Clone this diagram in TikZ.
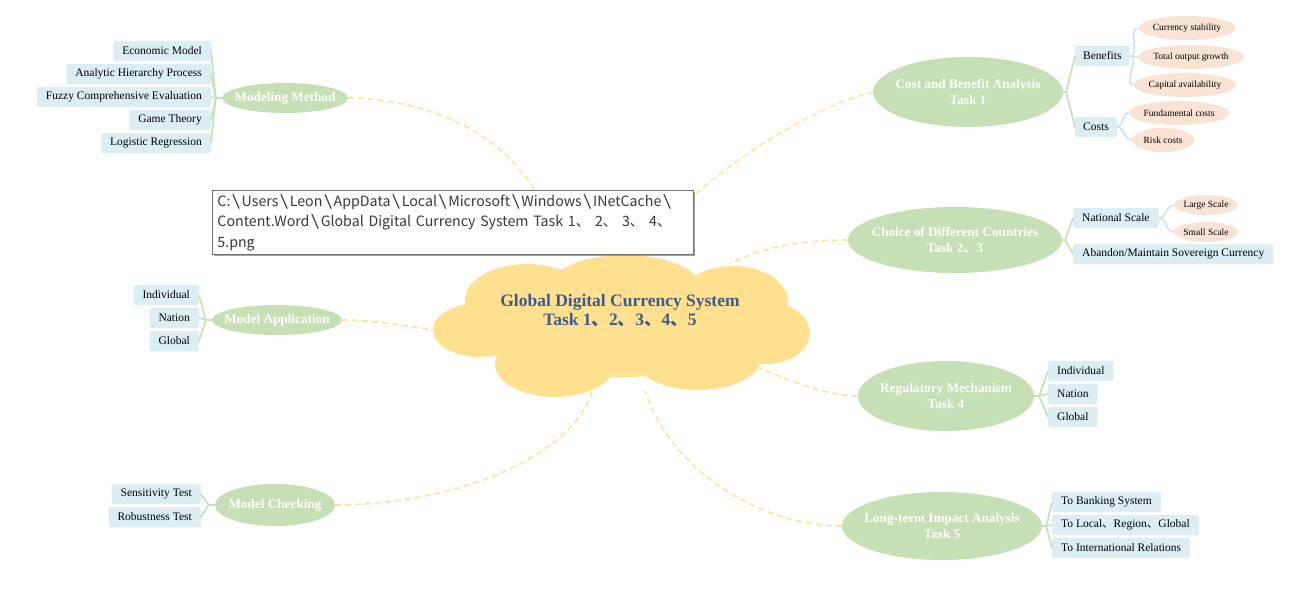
\documentclass[tikz,border=0pt]{standalone}
\usepackage{fontspec}
\usepackage{graphicx}
\setmainfont{Liberation Serif}
\newfontfamily\cjk{Noto Sans CJK SC}
\newcommand{\dn}{{\cjk 、}}
\newcommand{\bsl}{\kern1.6pt\scalebox{1.45}[1.05]{\textbackslash}\kern1.6pt}
\usetikzlibrary{shapes.geometric,shadows}
\definecolor{cloudc}{HTML}{FFE08F}
\definecolor{greenc}{HTML}{C5E0B4}
\definecolor{bluec}{HTML}{DAEEF3}
\definecolor{peachc}{HTML}{FBE3D4}
\definecolor{titlec}{HTML}{3F5B8C}
\definecolor{dashc}{HTML}{FDE49A}
\definecolor{bline}{HTML}{C8E2EC}
\tikzset{
 topic/.style={ellipse, fill=greenc, inner sep=0pt},
 ttext/.style={text=white, font=\bfseries\fontsize{13.2}{16}\selectfont, align=center, inner sep=0pt},
 leaf/.style={fill=bluec, rounded corners=1.5pt, font=\fontsize{11.5}{13}\selectfont, minimum height=20pt, inner xsep=9pt, inner ysep=0pt},
 sub/.style={ellipse, fill=peachc, font=\fontsize{9.5}{11}\selectfont, inner sep=0pt},
 mainline/.style={draw=dashc, line width=1.6pt, dash pattern=on 6pt off 4pt},
 gline/.style={draw=greenc, line width=1.6pt},
 bl/.style={draw=bline, line width=1.4pt},
 cloudpart/.style={fill=cloudc, draw=none},
}
\begin{document}
\begin{tikzpicture}[x=1pt,y=-1pt]
\useasboundingbox (0,0) rectangle (1302,592);
\fill[white] (0,0) rectangle (1302,592);

% topic nodes
\node[topic, minimum width=126pt, minimum height=30pt, label={[ttext]center:{Modeling Method}}] (mm) at (285,98) {};
\node[topic, minimum width=190pt, minimum height=70pt, label={[ttext]center:{Cost and Benefit Analysis\\Task 1}}] (cb) at (968,92) {};
\node[topic, minimum width=214pt, minimum height=66pt, label={[ttext]center:{Choice of Different Countries\\Task 2\dn 3}}] (cd) at (955,240) {};
\node[topic, minimum width=130pt, minimum height=30pt, label={[ttext]center:{Model Application}}] (ma) at (277,320) {};
\node[topic, minimum width=176pt, minimum height=70pt, label={[ttext]center:{Regulatory Mechanism\\Task 4}}] (rm) at (946,396) {};
\node[topic, minimum width=120pt, minimum height=42pt, label={[ttext]center:{Model Checking}}] (mc) at (275,505) {};
\node[topic, minimum width=200pt, minimum height=68pt, label={[ttext]center:{Long-term Impact Analysis\\Task 5}}] (lt) at (942,526) {};

% cloud attach points
\coordinate (cA) at (562,258);
\coordinate (cB) at (640,258);
\coordinate (cC) at (730,264);
\coordinate (cD) at (438,330);
\coordinate (cE) at (750,365);
\coordinate (cF) at (592,392);
\coordinate (cG) at (645,390);

% main dashed connectors
\draw[mainline] (mm.east) .. controls (450,100) and (540,150) .. (cA);
\draw[mainline] (cb.west) .. controls (800,110) and (680,190) .. (cB);
\draw[mainline] (cd.west) .. controls (800,240) and (760,248) .. (cC);
\draw[mainline] (ma.east) .. controls (380,320) and (410,328) .. (cD);
\draw[mainline] (rm.west) .. controls (820,396) and (780,375) .. (cE);
\draw[mainline] (mc.east) .. controls (450,505) and (570,460) .. (cF);
\draw[mainline] (lt.west) .. controls (760,526) and (670,470) .. (cG);

% cloud
\fill[cloudpart] (620,325) ellipse [x radius=150, y radius=52];
\fill[cloudpart] (625,287) ellipse [x radius=75, y radius=32];
\fill[cloudpart] (527,300) ellipse [x radius=62, y radius=36];
\fill[cloudpart] (733,302) ellipse [x radius=55, y radius=36];
\fill[cloudpart] (766,333) ellipse [x radius=44, y radius=31];
\fill[cloudpart] (698,360) ellipse [x radius=62, y radius=30];
\fill[cloudpart] (555,364) ellipse [x radius=60, y radius=33];
\fill[cloudpart] (480,330) ellipse [x radius=47, y radius=27];
\node[font=\bfseries\fontsize{17.5}{19}\selectfont, text=titlec, align=center] (core) at (620,311) {Global Digital Currency System\\Task 1\dn 2\dn 3\dn 4\dn 5};

% Modeling Method leaves
\node[leaf, anchor=east] (mm1) at (211,51) {Economic Model};
\node[leaf, anchor=east] (mm2) at (211,74) {Analytic Hierarchy Process};
\node[leaf, anchor=east] (mm3) at (211,97) {Fuzzy Comprehensive Evaluation};
\node[leaf, anchor=east] (mm4) at (211,120) {Game Theory};
\node[leaf, anchor=east] (mm5) at (211,143) {Logistic Regression};
\path (mm.west) ++(-6,0) coordinate (jmm);
\draw[gline] (mm.west) -- (jmm);
\foreach \c in {mm1,mm2,mm3,mm4,mm5} \draw[gline] (jmm) -- (\c.east);

% Cost and Benefit
\node[leaf, anchor=west, inner xsep=8pt] (ben) at (1075,56) {Benefits};
\node[leaf, anchor=west, inner xsep=8pt] (cos) at (1075,127) {Costs};
\path (cb.east) ++(3,0) coordinate (jcb);
\draw[gline] (cb.east) -- (jcb);
\foreach \c in {ben,cos} \draw[gline] (jcb) -- (\c.west);
\node[sub, minimum width=88pt, minimum height=24pt] (b1) at (1187,28) {Currency stability};
\node[sub, minimum width=98pt, minimum height=24pt] (b2) at (1191,57) {Total output growth};
\node[sub, minimum width=86pt, minimum height=24pt] (b3) at (1185,85) {Capital availability};
\node[sub, minimum width=92pt, minimum height=24pt] (c1) at (1179,113) {Fundamental costs};
\node[sub, minimum width=62pt, minimum height=24pt] (c2) at (1163,140) {Risk costs};
\foreach \c in {b1,b2,b3} \draw[bl] (ben.east) to[out=0,in=180] (\c.west);
\foreach \c in {c1,c2} \draw[bl] (cos.east) to[out=0,in=180] (\c.west);

% Choice of Different Countries
\node[leaf, anchor=west] (ns) at (1073,218) {National Scale};
\node[leaf, anchor=west] (ab) at (1073,254) {Abandon/Maintain Sovereign Currency};
\path (cd.east) ++(3,0) coordinate (jcd);
\draw[gline] (cd.east) -- (jcd);
\foreach \c in {ns,ab} \draw[gline] (jcd) -- (\c.west);
\node[sub, minimum width=62pt, minimum height=20pt] (ls) at (1206,205) {Large Scale};
\node[sub, minimum width=62pt, minimum height=20pt] (ss) at (1206,232) {Small Scale};
\foreach \c in {ls,ss} \draw[bl] (ns.east) to[out=0,in=180] (\c.west);

% Model Application
\node[leaf, anchor=east] (ma1) at (199,295) {Individual};
\node[leaf, anchor=east] (ma2) at (199,318) {Nation};
\node[leaf, anchor=east] (ma3) at (199,341) {Global};
\path (ma.west) ++(-6,0) coordinate (jma);
\draw[gline] (ma.west) -- (jma);
\foreach \c in {ma1,ma2,ma3} \draw[gline] (jma) -- (\c.east);

% Regulatory Mechanism
\node[leaf, anchor=west] (rm1) at (1048,371) {Individual};
\node[leaf, anchor=west] (rm2) at (1048,394) {Nation};
\node[leaf, anchor=west] (rm3) at (1048,417) {Global};
\path (rm.east) ++(5,0) coordinate (jrm);
\draw[gline] (rm.east) -- (jrm);
\foreach \c in {rm1,rm2,rm3} \draw[gline] (jrm) -- (\c.west);

% Model Checking
\node[leaf, anchor=east] (mc1) at (201,494) {Sensitivity Test};
\node[leaf, anchor=east] (mc2) at (201,517) {Robustness Test};
\path (mc.west) ++(-6,0) coordinate (jmc);
\draw[gline] (mc.west) -- (jmc);
\foreach \c in {mc1,mc2} \draw[gline] (jmc) -- (\c.east);

% Long-term Impact Analysis
\node[leaf, anchor=west] (lt1) at (1052,502) {To Banking System};
\node[leaf, anchor=west] (lt2) at (1052,525) {To Local\dn Region\dn Global};
\node[leaf, anchor=west] (lt3) at (1052,548) {To International Relations};
\path (lt.east) ++(4,0) coordinate (jlt);
\draw[gline] (lt.east) -- (jlt);
\foreach \c in {lt1,lt2,lt3} \draw[gline] (jlt) -- (\c.west);

% file path box
\node[draw=black!55, fill=white, line width=0.9pt, align=left, anchor=north west,
  text width=471pt, minimum height=64pt, inner xsep=5pt, inner ysep=1.5pt,
  font=\cjk\fontsize{14.2}{20.5}\selectfont, text=black!78,
  drop shadow={shadow xshift=2pt, shadow yshift=-2pt, fill=black!60, opacity=0.6}] (fp) at (212,190)
  {C:\bsl Users\bsl Leon\bsl AppData\bsl Local\bsl Microsoft\bsl Windows\bsl INetCache\bsl\\
   Content.Word\bsl Global Digital Currency System Task 1、\hspace{5pt}2、\hspace{5pt}3、\hspace{5pt}4、\\
   5.png};
\end{tikzpicture}
\end{document}
